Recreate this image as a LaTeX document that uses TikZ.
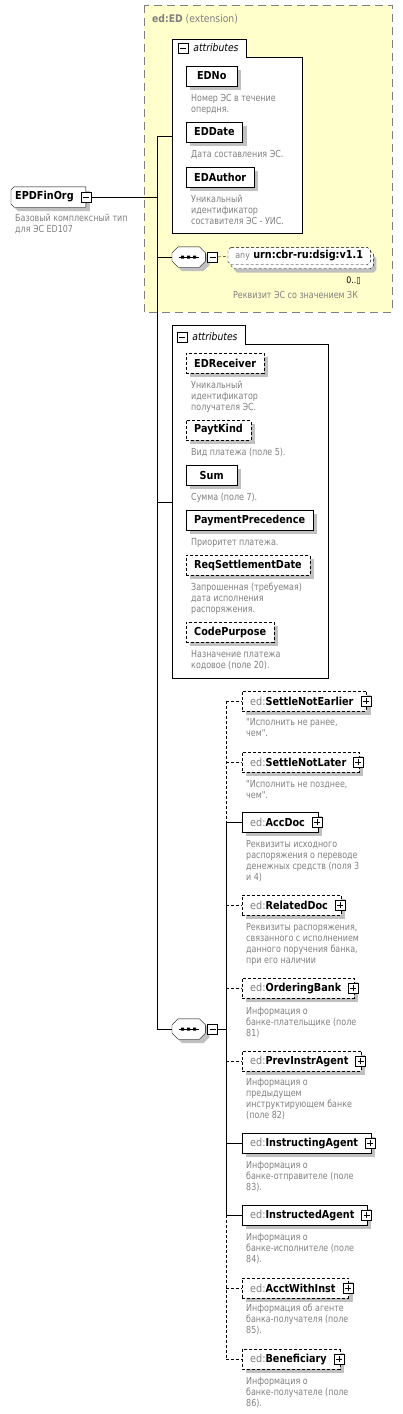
\documentclass[tikz,border=0pt]{standalone}
\usepackage{fontspec}
\setmainfont{DejaVu Sans}[FakeStretch=0.88]
\newfontfamily\descfont{DejaVu Sans}[FakeStretch=0.82]
\usetikzlibrary{shadows, positioning}

\definecolor{extfill}{RGB}{255,255,204}
\definecolor{extline}{RGB}{128,128,128}
\definecolor{descgray}{RGB}{128,128,128}
\definecolor{shadowgray}{RGB}{192,192,192}

\pgfdeclarelayer{frames}
\pgfdeclarelayer{shapes}
\pgfsetlayers{frames,shapes,main}

\newcommand\edp{\textcolor{descgray}{\mdseries ed:}}

\tikzset{
  shadowed/.style={drop shadow={shadow xshift=4pt, shadow yshift=-4pt, fill=shadowgray, opacity=1, draw=none}},
  sshift/.style={transform canvas={shift={(4pt,-4pt)}}},
  opt/.style={dash pattern=on 3pt off 2pt},
  elemtext/.style={anchor=west, minimum height=20pt, minimum width=51pt,
    inner xsep=8pt, inner ysep=0pt, font=\fontsize{11}{13}\selectfont\bfseries},
  elem/.style={elemtext, draw, fill=white, shadowed},
  child/.style={elem, execute at end node={\hspace{5pt}}},
  desc/.style={anchor=north west, align=left, inner sep=0pt, text=descgray,
    font=\descfont\fontsize{9.7}{11}\selectfont, execute at begin node={\strut}},
  minusbox/.style={draw, fill=white, minimum size=10pt, inner sep=0pt,
    path picture={\draw ([xshift=-3pt]path picture bounding box.center) -- ([xshift=3pt]path picture bounding box.center);}},
  plusbox/.style={draw, fill=white, minimum size=10pt, inner sep=0pt,
    path picture={\draw ([xshift=-3pt]path picture bounding box.center) -- ([xshift=3pt]path picture bounding box.center);
      \draw ([yshift=-3pt]path picture bounding box.center) -- ([yshift=3pt]path picture bounding box.center);}},
  attrframe/.style={anchor=north west, inner sep=0pt},
  tabtext/.style={inner sep=0pt, font=\fontsize{10.5}{12}\selectfont\itshape},
  seqbox/.style={anchor=west, minimum width=33pt, minimum height=20pt, inner sep=0pt},
  % outline with cut corners: node, left cut, right cut
  chamf/.style n args={3}{insert path={([xshift=#2]#1.north west) -- ([xshift=-#3]#1.north east)
    -- ([yshift=-#3]#1.north east) -- ([yshift=#3]#1.south east) -- ([xshift=-#3]#1.south east)
    -- ([xshift=#2]#1.south west) -- ([yshift=#2]#1.south west) -- ([yshift=-#2]#1.north west) -- cycle}},
  extbox/.style={draw=extline, fill=extfill, dash pattern=on 8pt off 5pt}
}

\begin{document}
\begin{tikzpicture}[x=1pt, y=-1pt, line width=1pt]
  \useasboundingbox (0,0) rectangle (403,1414);

  % extension of ed:ED
  \begin{pgfonlayer}{frames}
    \draw[extbox] (144,5) rectangle (392,312);
  \end{pgfonlayer}
  \node[anchor=west, inner sep=0pt, text=descgray, font=\fontsize{10.5}{12}\selectfont] (extlbl) at (152,19) {\textbf{ed:ED} (extension)};

  % root
  \node[elemtext, minimum width=73pt, inner xsep=4pt, execute at end node={\hspace{8pt}}] (root) at (11,197) {EPDFinOrg};
  \begin{pgfonlayer}{shapes}
    \fill[shadowgray, sshift, chamf={root}{3pt}{0pt}];
    \draw[fill=white, chamf={root}{3pt}{0pt}];
  \end{pgfonlayer}
  \node[minusbox] (rootm) at (root.east) {};
  \node[desc] (rootd) at (15,214) {Базовый комплексный тип\\для ЭС ED107};

  \coordinate (tk) at (157,0);
  \coordinate (cb) at (226,0);

  % attributes of ed:ED
  \node[attrframe, minimum width=130pt, minimum height=194pt] (attrs1) at (172,39) {};
  \begin{pgfonlayer}{frames}
    \draw[fill=white] (attrs1.south west) -- (attrs1.north west) -- ++(74,0) -- ++(0,18) -| (attrs1.south east) -- cycle;
  \end{pgfonlayer}
  \node[minusbox] (am1) at (183,48) {};
  \node[tabtext, right=5pt of am1] (at1) {attributes};

  \node[elem] (edno) at (186,76) {EDNo};
  \node[desc] (ednod) at (191,94) {Номер ЭС в течение\\опердня.};
  \node[elem] (eddate) at (186,132) {EDDate};
  \node[desc] (eddated) at (191,150) {Дата составления ЭС.};
  \node[elem] (edauthor) at (186,177) {EDAuthor};
  \node[desc] (edauthord) at (191,195) {Уникальный\\идентификатор\\составителя ЭС - УИС.};

  % signature
  \node[seqbox] (seq1) at (172,257) {};
  \node[minusbox, right=2pt of seq1] (sm1) {};
  \node[elemtext, minimum width=142pt, minimum height=17pt, inner xsep=4pt] (any) at (228,256)
    {\textcolor{descgray}{\mdseries\fontsize{9}{11}\selectfont any} urn:cbr-ru:dsig:v1.1};
  \begin{pgfonlayer}{shapes}
    \fill[shadowgray, sshift, chamf={seq1}{6pt}{6pt}];
    \draw[fill=white, chamf={seq1}{6pt}{6pt}];
    \fill[shadowgray, transform canvas={shift={(6pt,-8pt)}}, chamf={any}{3pt}{3pt}];
    \draw[opt, fill=white, transform canvas={shift={(3pt,-4pt)}}, chamf={any}{3pt}{3pt}];
    \draw[opt, fill=white, chamf={any}{3pt}{3pt}];
  \end{pgfonlayer}
  \draw ([xshift=-10pt]seq1.center) -- ([xshift=10pt]seq1.center);
  \fill ([xshift=-7.5pt,yshift=-1.5pt]seq1.center) rectangle ++(3pt,3pt)
    ([xshift=-1.5pt,yshift=-1.5pt]seq1.center) rectangle ++(3pt,3pt)
    ([xshift=4.5pt,yshift=-1.5pt]seq1.center) rectangle ++(3pt,3pt);
  \node[anchor=east, inner sep=0pt, font=\fontsize{9}{11}\selectfont] (anyocc) at (361,281) {0..▯};
  \node[desc] (anyd) at (233,291) {Реквизит ЭС со значением ЗК};

  % attributes of EPDFinOrg
  \node[attrframe, minimum width=156pt, minimum height=353pt] (attrs2) at (172,325) {};
  \begin{pgfonlayer}{frames}
    \draw[fill=white] (attrs2.south west) -- (attrs2.north west) -- ++(73,0) -- ++(0,19) -| (attrs2.south east) -- cycle;
  \end{pgfonlayer}
  \node[minusbox] (am2) at (182,337) {};
  \node[tabtext, right=5pt of am2] (at2) {attributes};

  \node[elem, opt] (edreceiver) at (186,363) {EDReceiver};
  \node[desc] (edreceiverd) at (191,381) {Уникальный\\идентификатор\\получателя ЭС.};
  \node[elem, opt] (paytkind) at (186,430) {PaytKind};
  \node[desc] (paytkindd) at (191,448) {Вид платежа (поле 5).};
  \node[elem] (sum) at (186,475) {Sum};
  \node[desc] (sumd) at (191,493) {Сумма (поле 7).};
  \node[elem] (payprec) at (186,520) {PaymentPrecedence};
  \node[desc] (payprecd) at (191,538) {Приоритет платежа.};
  \node[elem, opt] (reqsettle) at (186,565) {ReqSettlementDate};
  \node[desc] (reqsettled) at (191,583) {Запрошенная (требуемая)\\дата исполнения\\распоряжения.};
  \node[elem, opt] (codepurp) at (186,632) {CodePurpose};
  \node[desc] (codepurpd) at (191,650) {Назначение платежа\\кодовое (поле 20).};

  % sequence of child elements
  \node[seqbox] (seq2) at (172,1029) {};
  \begin{pgfonlayer}{shapes}
    \fill[shadowgray, sshift, chamf={seq2}{6pt}{6pt}];
    \draw[fill=white, chamf={seq2}{6pt}{6pt}];
  \end{pgfonlayer}
  \draw ([xshift=-10pt]seq2.center) -- ([xshift=10pt]seq2.center);
  \fill ([xshift=-7.5pt,yshift=-1.5pt]seq2.center) rectangle ++(3pt,3pt)
    ([xshift=-1.5pt,yshift=-1.5pt]seq2.center) rectangle ++(3pt,3pt)
    ([xshift=4.5pt,yshift=-1.5pt]seq2.center) rectangle ++(3pt,3pt);
  \node[minusbox, right=2pt of seq2] (sm2) {};

  \node[child, opt] (snearly) at (242,701) {\edp SettleNotEarlier};
  \node[plusbox] (snearlyp) at ([xshift=-1pt]snearly.east) {};
  \node[desc] (snearlyd) at (246,718) {"Исполнить не ранее,\\чем".};
  \node[child, opt] (snlater) at (242,762) {\edp SettleNotLater};
  \node[plusbox] (snlaterp) at ([xshift=-1pt]snlater.east) {};
  \node[desc] (snlaterd) at (246,780) {"Исполнить не позднее,\\чем".};
  \node[child] (accdoc) at (242,822) {\edp AccDoc};
  \node[plusbox] (accdocp) at ([xshift=-1pt]accdoc.east) {};
  \node[desc] (accdocd) at (246,840) {Реквизиты исходного\\распоряжения о переводе\\денежных средств (поля 3\\и 4)};
  \node[child, opt] (reldoc) at (242,905) {\edp RelatedDoc};
  \node[plusbox] (reldocp) at ([xshift=-1pt]reldoc.east) {};
  \node[desc] (reldocd) at (246,923) {Реквизиты распоряжения,\\связанного с исполнением\\данного поручения банка,\\при его наличии};
  \node[child, opt] (ordbank) at (242,988) {\edp OrderingBank};
  \node[plusbox] (ordbankp) at ([xshift=-1pt]ordbank.east) {};
  \node[desc] (ordbankd) at (246,1007) {Информация о\\банке-плательщике (поле\\81)};
  \node[child, opt] (previnstr) at (242,1061) {\edp PrevInstrAgent};
  \node[plusbox] (previnstrp) at ([xshift=-1pt]previnstr.east) {};
  \node[desc] (previnstrd) at (246,1078) {Информация о\\предыдущем\\инструктирующем банке\\(поле 82)};
  \node[child] (instrg) at (242,1143) {\edp InstructingAgent};
  \node[plusbox] (instrgp) at ([xshift=-1pt]instrg.east) {};
  \node[desc] (instrgd) at (246,1161) {Информация о\\банке-отправителе (поле\\83).};
  \node[child] (instrd) at (242,1215) {\edp InstructedAgent};
  \node[plusbox] (instrdp) at ([xshift=-1pt]instrd.east) {};
  \node[desc] (instrdd) at (246,1233) {Информация о\\банке-исполнителе (поле\\84).};
  \node[child, opt] (acctwith) at (242,1288) {\edp AcctWithInst};
  \node[plusbox] (acctwithp) at ([xshift=-1pt]acctwith.east) {};
  \node[desc] (acctwithd) at (246,1304) {Информация об агенте\\банка-получателя (поле\\85).};
  \node[child, opt] (benef) at (242,1359) {\edp Beneficiary};
  \node[plusbox] (benefp) at ([xshift=-1pt]benef.east) {};
  \node[desc] (benefd) at (246,1377) {Информация о\\банке-получателе (поле\\86).};

  % connectors
  \draw (rootm.east) -- (tk |- rootm.east);
  \draw (tk |- attrs1.west) -- (tk |- seq2.west);
  \draw (tk |- attrs1.west) -- (attrs1.west);
  \draw (tk |- seq1.west) -- (seq1.west);
  \draw (tk |- attrs2.west) -- (attrs2.west);
  \draw (tk |- seq2.west) -- (seq2.west);
  \draw[opt] (sm1.east) -- (any.west);
  \draw (sm2.east) -- (cb |- sm2.east);

  \draw[opt] (cb |- snearly.west) -- (cb |- accdoc.west);
  \draw (cb |- accdoc.west) -- (cb |- instrd.west);
  \draw[opt] (cb |- instrd.west) -- (cb |- benef.west);
  \draw[opt] (cb |- snearly.west) -- (snearly.west);
  \draw[opt] (cb |- snlater.west) -- (snlater.west);
  \draw (cb |- accdoc.west) -- (accdoc.west);
  \draw[opt] (cb |- reldoc.west) -- (reldoc.west);
  \draw[opt] (cb |- ordbank.west) -- (ordbank.west);
  \draw[opt] (cb |- previnstr.west) -- (previnstr.west);
  \draw (cb |- instrg.west) -- (instrg.west);
  \draw (cb |- instrd.west) -- (instrd.west);
  \draw[opt] (cb |- acctwith.west) -- (acctwith.west);
  \draw[opt] (cb |- benef.west) -- (benef.west);
\end{tikzpicture}
\end{document}
